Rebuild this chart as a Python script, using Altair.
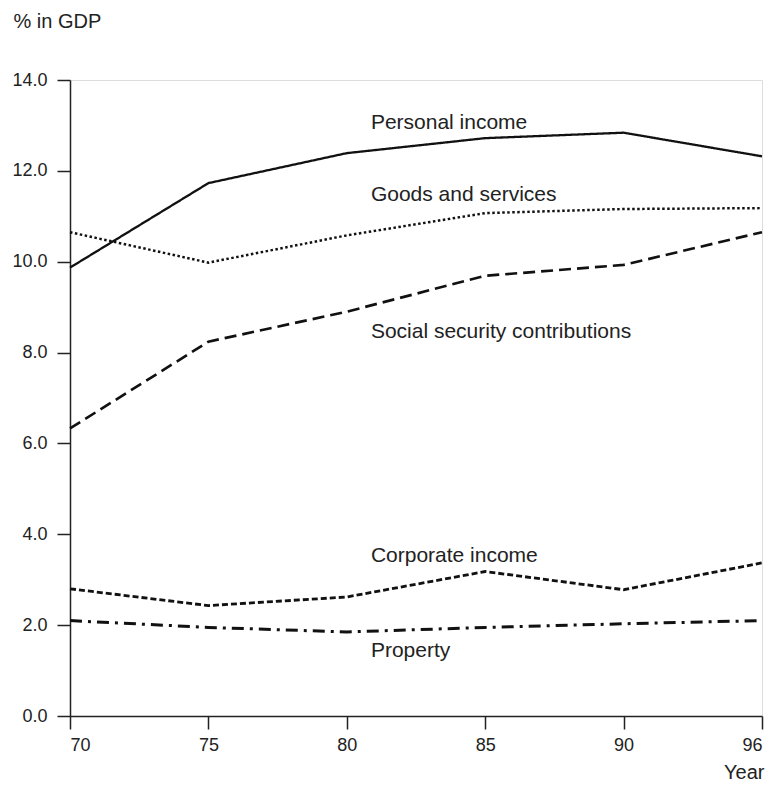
import altair as alt
import pandas as pd

years = [70, 75, 80, 85, 90, 96]
series_names = ["Personal income", "Goods and services", "Social security contributions",
                "Corporate income", "Property"]
personal = [9.87, 11.73, 12.39, 12.72, 12.84, 12.32]
goods = [10.65, 9.98, 10.58, 11.07, 11.16, 11.18]
social = [6.33, 8.24, 8.90, 9.69, 9.93, 10.65]
corporate = [2.80, 2.43, 2.62, 3.18, 2.78, 3.37]
prop = [2.10, 1.95, 1.85, 1.95, 2.03, 2.10]
y_ticks = [0, 2, 4, 6, 8, 10, 12, 14]

label_year = [80.87] * 5
label_value = [12.92, 11.33, 8.32, 3.39, 1.30]

W, H = 692, 636
FONT = "Liberation Sans"

rows = []
for name, vals in zip(series_names, [personal, goods, social, corporate, prop]):
    for yr, v in zip(years, vals):
        rows.append({"series": name, "year": yr, "value": v})
df = pd.DataFrame(rows)
labels = pd.DataFrame({"series": series_names, "year": label_year, "value": label_value})

xscale = alt.Scale(domain=[70, 90, 96], range=[0, W * 4 / 5, W], zero=False, nice=False)
yscale = alt.Scale(domain=[0, 14], zero=True, nice=False)

dashes = [[1, 0], [2.5, 2.5], [12, 6], [6, 3], [12, 6, 3, 6]]
widths = [2.3, 3, 2.5, 2.5, 3]

lines = alt.Chart(df).mark_line(color="#111111").encode(
    x=alt.X("year:Q", scale=xscale,
            axis=alt.Axis(values=years, format="d", title="Year", grid=False,
                          tickSize=13, labelPadding=7, labelFontSize=18, labelFont=FONT,
                          labelColor="#222222", domainColor="#222222", tickColor="#222222",
                          domainWidth=1.5, tickWidth=1.5,
                          titleFont=FONT, titleFontSize=20, titleFontWeight="normal",
                          titleColor="#222222", titleAlign="right", titleBaseline="alphabetic",
                          titleX=694, titleY=62)),
    y=alt.Y("value:Q", scale=yscale,
            axis=alt.Axis(values=y_ticks, format=".1f", title="% in GDP", grid=False,
                          tickSize=13, labelPadding=10, labelFontSize=18, labelFont=FONT,
                          labelColor="#222222", domainColor="#222222", tickColor="#222222",
                          domainWidth=1.5, tickWidth=1.5,
                          titleFont=FONT, titleFontSize=20, titleFontWeight="normal",
                          titleColor="#222222", titleAngle=0, titleAlign="left",
                          titleBaseline="alphabetic", titleX=-57, titleY=-53)),
    strokeDash=alt.StrokeDash("series:N", scale=alt.Scale(domain=series_names, range=dashes),
                              legend=None),
    strokeWidth=alt.StrokeWidth("series:N", scale=alt.Scale(domain=series_names, range=widths),
                                legend=None),
    detail="series:N",
)

text = alt.Chart(labels).mark_text(align="left", baseline="alphabetic", font=FONT,
                                   fontSize=21, color="#222222").encode(
    x=alt.X("year:Q", scale=xscale),
    y=alt.Y("value:Q", scale=yscale),
    text="series:N",
)

chart = alt.layer(lines, text).properties(
    width=W, height=H,
    autosize=alt.AutoSizeParams(type="none"),
    padding={"left": 62, "top": 72, "right": 7, "bottom": 68},
).configure_view(stroke=None).configure(background="white")

chart.save("out.html", embed_options={"renderer": "svg", "actions": False})
